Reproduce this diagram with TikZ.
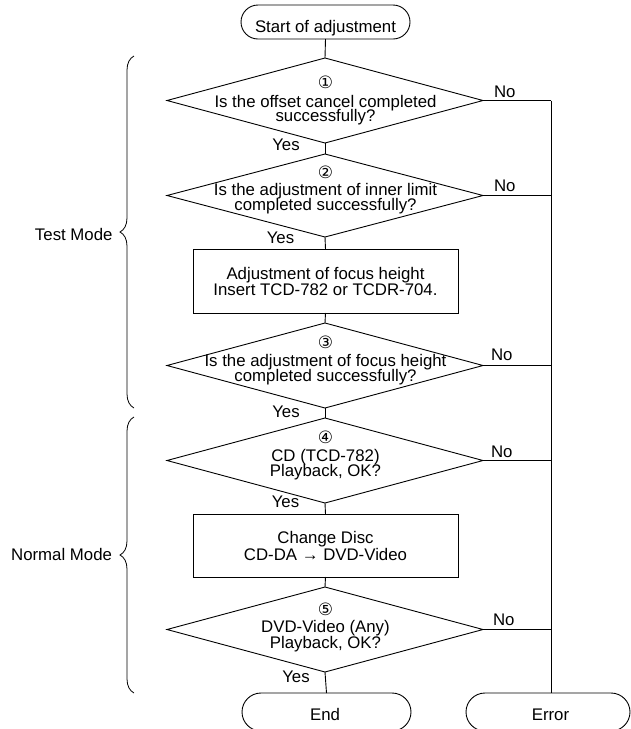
\documentclass[tikz,border=0pt]{standalone}
\usepackage{fontspec}
\setmainfont{Liberation Sans}
\newfontfamily\symfont{DejaVu Sans}
\usetikzlibrary{shapes.geometric,decorations.pathreplacing}
\begin{document}
\begin{tikzpicture}[x=1pt,y=-1pt, line width=0.9pt,
  every node/.style={inner sep=0pt, outer sep=0pt},
  txt/.style={font=\fontsize{16.8}{16}\selectfont, anchor=base},
  lbl/.style={font=\fontsize{16.8}{16}\selectfont},
  num/.style={font=\symfont\fontsize{17}{17}\selectfont},
  dec/.style={draw, diamond, minimum width=316pt, minimum height=85pt},
  proc/.style={draw, rectangle, minimum width=265pt, minimum height=64pt},
  term/.style={draw, rectangle, rounded corners=17pt, minimum width=169pt, minimum height=34pt},
  fin/.style={draw, rectangle, rounded corners=19pt, minimum height=38pt},
  brc/.style={decorate, decoration={brace, amplitude=14pt}, line width=0.8pt}
  ]
\useasboundingbox (0,0) rectangle (631,729);

% shapes
\node[term] (start) at (325.5,22) {};
\node[dec] (d1) at (325,100.5) {};
\node[dec, minimum height=83pt] (d2) at (325,195.5) {};
\node[proc] (b1) at (325.5,281) {};
\node[dec] (d3) at (325,365.5) {};
\node[dec] (d4) at (325,460.5) {};
\node[proc, minimum height=63pt] (b2) at (325.5,545.5) {};
\node[dec] (d5) at (325,629.5) {};
\node[fin, minimum width=169pt] (end) at (326.5,712) {};
\node[fin, minimum width=164pt] (err) at (548,712) {};

% texts
\node[txt] (tstart) at (325.5,32.3) {Start of adjustment};
\node[num] (n1) at (325.5,82.5) {①};
\node[txt] (t1a) at (325.5,107.3) {Is the offset cancel completed};
\node[txt] (t1b) at (325.5,121.7) {successfully?};
\node[num] (n2) at (325.5,172.5) {②};
\node[txt] (t2a) at (325.5,195) {Is the adjustment of inner limit};
\node[txt] (t2b) at (325.5,210) {completed successfully?};
\node[txt] (tb1a) at (325.5,279.3) {Adjustment of focus height};
\node[txt] (tb1b) at (325.5,295) {Insert TCD-782 or TCDR-704.};
\node[num] (n3) at (325.5,342) {③};
\node[txt] (t3a) at (325.5,366) {Is the adjustment of focus height};
\node[txt] (t3b) at (325.5,381) {completed successfully?};
\node[num] (n4) at (325.5,437.5) {④};
\node[txt] (t4a) at (325.5,461.7) {CD (TCD-782)};
\node[txt] (t4b) at (325.5,476.5) {Playback, OK?};
\node[txt] (tb2a) at (325.5,543.3) {Change Disc};
\node[txt] (tb2b) at (325.5,560.7) {CD-DA → DVD-Video};
\node[num] (n5) at (325.5,609) {⑤};
\node[txt] (t5a) at (325.5,632.7) {DVD-Video (Any)};
\node[txt] (t5b) at (325.5,648.3) {Playback, OK?};
\node[txt] (tend) at (325,720) {End};
\node[txt] (terr) at (550.5,720) {Error};

% yes / no labels
\node[txt] (y1) at (286,150.5) {Yes};
\node[txt] (y2) at (280.5,243.3) {Yes};
\node[txt] (y3) at (286,417.3) {Yes};
\node[txt] (y4) at (285.5,507.7) {Yes};
\node[txt] (y5) at (296,682.3) {Yes};
\node[txt, anchor=base west] (no1) at (494,97.3) {No};
\node[txt, anchor=base west] (no2) at (494,191.7) {No};
\node[txt, anchor=base west] (no3) at (491,360.7) {No};
\node[txt, anchor=base west] (no4) at (491,457) {No};
\node[txt, anchor=base west] (no5) at (493,625) {No};

% main flow
\draw (start.south) -- (d1.north);
\draw (d1.south) -- (d2.north);
\draw (d2.south) -- (b1.north);
\draw (b1.south) -- (d3.north);
\draw (d3.south) -- (d4.north);
\draw (d4.south) -- (b2.north);
\draw (b2.south) -- (d5.north);
\draw (d5.south) -- (end.north);

% error branch
\coordinate (v1) at (551,100.5);
\coordinate (v2) at (551,195.5);
\coordinate (v3) at (551,365.5);
\coordinate (v4) at (551,460.5);
\coordinate (v5) at (551,629.5);
\draw (d1.east) -- (v1);
\draw (d2.east) -- (v2);
\draw (d3.east) -- (v3);
\draw (d4.east) -- (v4);
\draw (d5.east) -- (v5);
\draw (v1) -- (v1 |- err.north);

% braces
\coordinate (tmb) at (134,408);
\coordinate (tmt) at (134,56);
\coordinate (nmb) at (134,693);
\coordinate (nmt) at (134,417);
\draw[brc] (tmb) -- (tmt);
\draw[brc] (nmb) -- (nmt);
\node[lbl, anchor=base east] (testmode) at (112.5,240.5) {Test Mode};
\node[lbl, anchor=base east] (normalmode) at (112,560.7) {Normal Mode};
\end{tikzpicture}
\end{document}
